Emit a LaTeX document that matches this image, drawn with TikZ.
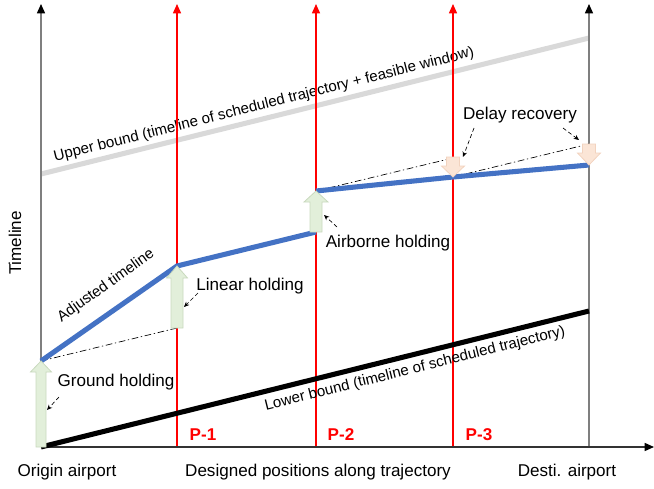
\documentclass[tikz,border=0pt]{standalone}
\usepackage{fontspec}
\setmainfont{Liberation Sans}
\usetikzlibrary{arrows.meta}
\definecolor{axisgray}{HTML}{7F7F7F}
\definecolor{boundgray}{HTML}{D9D9D9}
\definecolor{myblue}{HTML}{4472C4}
\definecolor{myred}{HTML}{FF0000}
\definecolor{gfill}{HTML}{E2EFDA}
\definecolor{gdraw}{HTML}{C9D9BE}
\definecolor{pfill}{HTML}{FBE5D6}
\definecolor{pdraw}{HTML}{F2D3BF}
\tikzset{
  axisline/.style={draw=axisgray, line width=1.1pt, -{Triangle[length=7pt,width=6pt,color=black]}},
  redline/.style={draw=myred, line width=1.1pt, -{Triangle[length=7pt,width=6pt,color=myred]}},
  bluepath/.style={draw=myblue, line width=3.8pt},
  dashdot/.style={draw=black, line width=0.5pt, dash pattern=on 5pt off 2pt on 1pt off 2pt},
  pointer/.style={draw=black, line width=0.5pt, densely dashed, -{Stealth[length=4pt,width=3.5pt]}},
  lbl/.style={font=\fontsize{12.8}{14}\selectfont, inner sep=0pt},
  slbl/.style={font=\fontsize{11.3}{13}\selectfont, inner sep=0pt},
  plbl/.style={font=\fontsize{12.8}{14}\selectfont\bfseries, text=myred, inner sep=0pt},
  garrow/.style={fill=gfill, draw=gdraw, line width=0.6pt},
  parrow/.style={fill=pfill, draw=pdraw, line width=0.6pt},
}
% up arrow: center x, bottom y, tip y, shaft half, head half, head height
\newcommand{\myUpArrow}[7]{%
  \path[#1] (#2-#5,#3) -- (#2-#5,#4+#7) -- (#2-#6,#4+#7) -- (#2,#4) -- (#2+#6,#4+#7) -- (#2+#5,#4+#7) -- (#2+#5,#3) -- cycle;}
% down arrow: center x, top y, tip y, shaft half, head half, head height
\newcommand{\myDownArrow}[7]{%
  \path[#1] (#2-#5,#3) -- (#2-#5,#4-#7) -- (#2-#6,#4-#7) -- (#2,#4) -- (#2+#6,#4-#7) -- (#2+#5,#4-#7) -- (#2+#5,#3) -- cycle;}
\begin{document}
\begin{tikzpicture}[x=0.75pt,y=-0.75pt]
\useasboundingbox (0,0) rectangle (654,489);
% coordinates
\coordinate (O) at (41,447);
\coordinate (Otop) at (41,4);
\coordinate (Xend) at (654,447);
\coordinate (D) at (589,447);
\coordinate (Dtop) at (589,4);
\coordinate (P1b) at (177,447); \coordinate (P1t) at (177,4);
\coordinate (P2b) at (316,447); \coordinate (P2t) at (316,4);
\coordinate (P3b) at (453,447); \coordinate (P3t) at (453,4);
\coordinate (UB1) at (41,174); \coordinate (UB2) at (589,38);
\coordinate (LB2) at (589,311);
\coordinate (B0) at (41,361); \coordinate (B1) at (177,266); \coordinate (B2) at (316,232);
\coordinate (B3) at (316,191); \coordinate (B4) at (453,177); \coordinate (B5) at (589,165);
\coordinate (DD1) at (177,328);
\coordinate (DD2) at (453,158);
\coordinate (DD3) at (589,144);

% upper bound
\draw[draw=boundgray, line width=3.8pt] (UB1) -- (UB2);
\node[slbl, rotate=14.1] (ubl) at (264,105) {Upper bound (timeline of scheduled trajectory + feasible window)};

% red verticals
\draw[redline] (P1b) -- (P1t);
\draw[redline] (P2b) -- (P2t);
\draw[redline] (P3b) -- (P3t);
% axes
\draw[axisline] (O) -- (Otop);
\draw[axisline] (D) -- (Dtop);
\draw[draw=black!80, line width=1.1pt, -{Triangle[length=7pt,width=6pt,color=black]}] (O) -- (Xend);

% lower bound
\draw[draw=black, line width=3.8pt] (O) -- (LB2);
\node[slbl, rotate=14.1] (lbl) at (415,369) {Lower bound (timeline of scheduled trajectory)};

% dash-dot reference lines
\draw[dashdot] (B0) -- (DD1);
\draw[dashdot] (B3) -- (DD2);
\draw[dashdot] (B4) -- (DD3);

% adjusted timeline
\draw[bluepath] (B0) -- (B1) -- (B2);
\draw[bluepath] (B3) -- (B4) -- (B5);
\node[slbl, rotate=35.5] (adj) at (106,286) {Adjusted timeline};

% holding arrows
\myUpArrow{garrow}{41}{447}{361}{5}{10.5}{11}
\myUpArrow{garrow}{177}{328}{266}{6}{10.5}{12}
\myUpArrow{garrow}{316}{232}{191}{6}{12}{11}
\myDownArrow{parrow}{453}{157}{177}{6.5}{11.5}{11}
\myDownArrow{parrow}{589}{144}{165}{6.5}{11.5}{12}

% labels
\node[lbl] (gh) at (116,382) {Ground holding};
\node[lbl] (lh) at (250,286) {Linear holding};
\node[lbl] (ah) at (388,243) {Airborne holding};
\node[lbl] (dr) at (520,115) {Delay recovery};
\node[lbl, rotate=90] (tl) at (15,243) {Timeline};
\node[lbl] (oa) at (67,472) {Origin airport};
\node[lbl] (dp) at (318,472) {Designed positions along trajectory};
\node[lbl] (da) at (567,472) {Desti. airport};
\node[plbl] (p1) at (203,435) {P-1};
\node[plbl] (p2) at (341,435) {P-2};
\node[plbl] (p3) at (479,435) {P-3};

% pointers
\coordinate (ghs) at (59,397); \coordinate (ghe) at (47,410);
\coordinate (lhs) at (198,293); \coordinate (lhe) at (184,307);
\coordinate (ahs) at (337,227); \coordinate (ahe) at (324,215);
\coordinate (drs1) at (474,128); \coordinate (dre1) at (463,157);
\coordinate (drs2) at (563,128); \coordinate (dre2) at (579,140);
\draw[pointer] (ghs) -- (ghe);
\draw[pointer] (lhs) -- (lhe);
\draw[pointer] (ahs) -- (ahe);
\draw[pointer] (drs1) -- (dre1);
\draw[pointer] (drs2) -- (dre2);
\end{tikzpicture}
\end{document}
